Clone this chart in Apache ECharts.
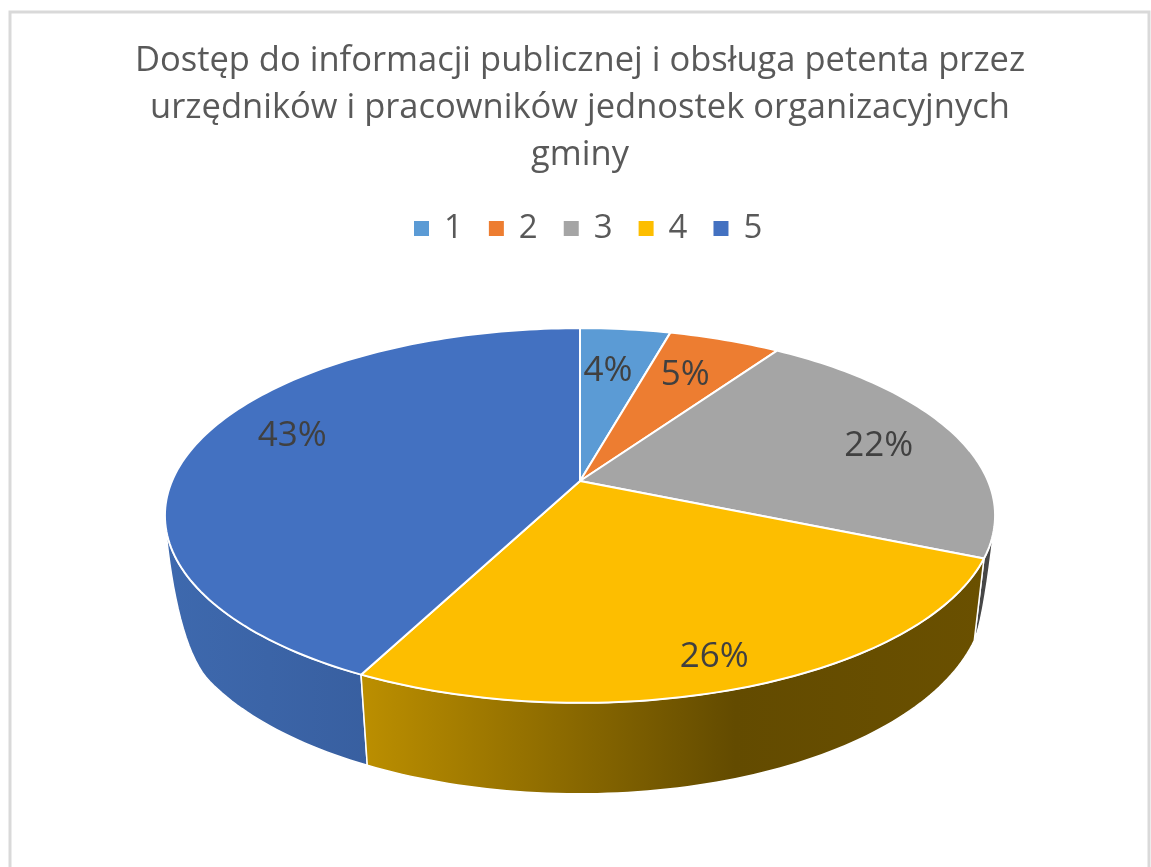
<!DOCTYPE html>
<html>
<head>
<meta charset="utf-8">
<style>
html, body { margin: 0; padding: 0; background: #fff; overflow: hidden; }
#main { width: 1151px; height: 867px; }
</style>
<script src="https://cdn.jsdelivr.net/npm/echarts@6/dist/echarts.min.js"></script>
</head>
<body>
<div id="main"></div>
<script>
var titleText = 'Dostęp do informacji publicznej i obsługa petenta przez\nurzędników i pracowników jednostek organizacyjnych\ngminy';
var categories = ['1', '2', '3', '4', '5'];
var values = [4.2, 5.2, 22.1, 25.9, 42.6];
var colors = ['#5b9bd5', '#ed7d31', '#a5a5a5', '#fdbe00', '#4371c1'];

// side wall shading, left to right
var wallStops = [
    [[0, '#36567f'], [1, '#2d4a6e']],
    [[0, '#8e4a1d'], [1, '#7a3f19']],
    [[0, '#4a4a4a'], [1, '#464646']],
    [[0, '#bc8f00'], [0.6, '#634b00'], [1, '#6a5000']],
    [[0, '#3e69ae'], [1, '#325592']]
];
// where each label sits on the disc (-1..1 of the radius)
var labelSpots = [[0.077, -0.685], [0.289, -0.657], [0.759, -0.2], [0.279, 0.825], [-0.739, -0.26]];
var wallOrder = [0, 1, 2, 4, 3];

// disc seen in perspective
var cx = 580, cy = 481, ax = 408, by = 181, tilt = 0.184;
var total = values.reduce(function (a, b) { return a + b; }, 0);

function sliceStart(i) {
    var sum = 0;
    for (var k = 0; k < i; k++) sum += values[k];
    return sum / total * Math.PI * 2;
}

function rim(angle, r) {
    var X = Math.sin(angle) * r, Y = -Math.cos(angle) * r, w = 1 - tilt * Y;
    return [cx + ax * X / w, cy + by * Y / w];
}

// lower edge of the wall: it leaves the rim around the widest point of the disc
function base(angle) {
    var p = rim(angle, 1), X = Math.sin(angle), Y = -Math.cos(angle);
    var shrink = X < 0 ? 0.985 - 0.015 * Y : 0.976;
    var drop = 76 + 15 * Y + (X < 0 ? 12 * (1 - Y) : 0);
    var u = Math.min(1, Math.max(0, X < 0 ? (Y - 0.22) / 0.33 : (Y - 0.2) / 0.2));
    var t = Math.sin(u * Math.PI / 2);
    return [cx + (p[0] - cx) * (1 - t * (1 - shrink)), p[1] + drop * t];
}

function arcPoints(i, fn) {
    var a0 = sliceStart(i), a1 = a0 + values[i] / total * Math.PI * 2;
    var n = Math.max(8, Math.ceil(values[i] * 3)), pts = [];
    for (var k = 0; k <= n; k++) pts.push(fn(a0 + (a1 - a0) * k / n));
    return pts;
}

function renderTop(i) {
    return function (params, api) {
        var pts = [[cx, cy]].concat(arcPoints(i, function (a) { return rim(a, 1); }));
        return {
            type: 'polygon',
            shape: { points: pts },
            style: { fill: api.visual('color'), stroke: '#fff', lineWidth: 2, lineJoin: 'round' }
        };
    };
}

function renderWall(params, api) {
    var i = wallOrder[params.dataIndex];
    var upper = arcPoints(i, function (a) { return rim(a, 1); });
    var lower = arcPoints(i, base).reverse();
    return {
        type: 'polygon',
        shape: { points: upper.concat(lower) },
        style: {
            fill: {
                type: 'linear', x: 0, y: 0, x2: 1, y2: 0,
                colorStops: wallStops[i].map(function (s) { return { offset: s[0], color: s[1] }; })
            },
            stroke: '#fff', lineWidth: 1.5, lineJoin: 'round'
        }
    };
}

function renderLabel(params, api) {
    var i = params.dataIndex, s = labelSpots[i], w = 1 - tilt * s[1];
    return {
        type: 'text',
        style: {
            x: cx + ax * s[0] / w,
            y: cy + by * s[1] / w,
            text: Math.round(values[i] / total * 100) + '%',
            font: '35px "Open Sans"',
            fill: '#404040',
            align: 'center',
            verticalAlign: 'middle'
        }
    };
}

var series = [{
    name: 'wall', type: 'custom', coordinateSystem: 'none', z: 1, silent: true,
    renderItem: renderWall,
    data: wallOrder.map(function (i) { return [values[i]]; })
}];
categories.forEach(function (name, i) {
    series.push({
        name: name, type: 'custom', coordinateSystem: 'none', z: 2, silent: true,
        itemStyle: { color: colors[i] },
        renderItem: renderTop(i),
        data: [[values[i]]]
    });
});
series.push({
    name: 'labels', type: 'custom', coordinateSystem: 'none', z: 3, silent: true,
    renderItem: renderLabel,
    data: values.map(function (v) { return [v]; })
});

var myChart = echarts.init(document.getElementById('main'));
myChart.setOption({
    animation: false,
    backgroundColor: '#fff',
    title: {
        text: titleText,
        left: 575,
        top: 33,
        textAlign: 'center',
        textStyle: { fontFamily: 'Open Sans', fontSize: 34.5, fontWeight: 'normal', color: '#595959', lineHeight: 47 }
    },
    legend: {
        data: categories,
        left: 409,
        top: 207,
        icon: 'rect',
        itemWidth: 15,
        itemHeight: 15,
        itemGap: 26,
        textStyle: { fontFamily: 'Open Sans', fontSize: 33, color: '#595959', padding: [0, 0, 0, 10] }
    },
    graphic: [{
        type: 'rect',
        shape: { x: 10, y: 12, width: 1139, height: 900 },
        style: { fill: 'none', stroke: '#d9d9d9', lineWidth: 3 },
        silent: true
    }],
    series: series
});
</script>
</body>
</html>
